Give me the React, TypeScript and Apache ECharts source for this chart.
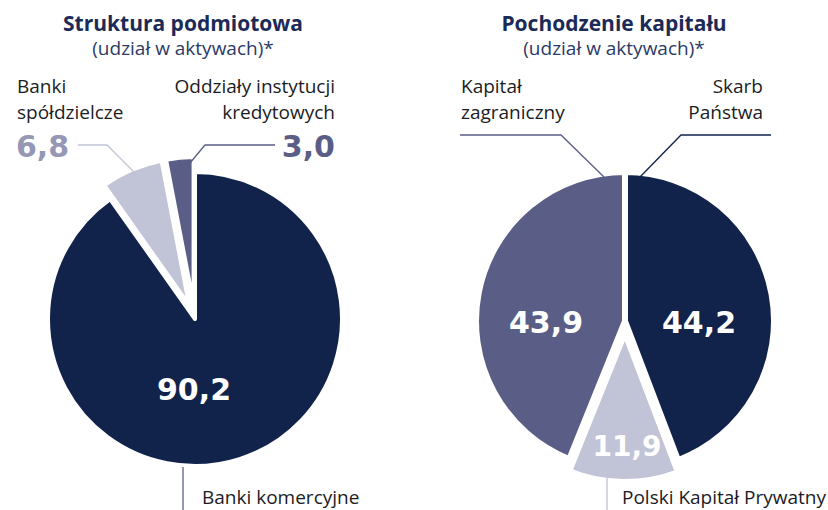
import React, { useEffect, useRef } from "react";
import * as echarts from "echarts";

const leftTitle = "Struktura podmiotowa";
const rightTitle = "Pochodzenie kapitału";
const subtitle = "(udział w aktywach)*";

const leftCategories = ["Banki komercyjne", "Banki spółdzielcze", "Oddziały instytucji kredytowych"];
const leftLabelLines = [["Banki komercyjne"], ["Banki", "spółdzielcze"], ["Oddziały instytucji", "kredytowych"]];
const leftValues = [90.2, 6.8, 3.0];
const leftSelected = [false, true, true];

const rightCategories = ["Skarb Państwa", "Polski Kapitał Prywatny", "Kapitał zagraniczny"];
const rightLabelLines = [["Skarb", "Państwa"], ["Polski Kapitał Prywatny"], ["Kapitał", "zagraniczny"]];
const rightValues = [44.2, 11.9, 43.9];
const rightSelected = [false, true, false];

const DARK = "#11224b";
const LIGHT = "#c1c3d6";
const SLATE = "#5a5e86";
const sliceColors = [DARK, LIGHT, SLATE];

const fmt = (v: number) => v.toFixed(1).replace(".", ",");

const FONT = "'Open Sans', 'Noto Sans', sans-serif";
const NUMFONT = "'DejaVu Sans', 'Open Sans', sans-serif";
const TITLE_COLOR = "#1b2a57";
const TEXT_COLOR = "#1c1c24";

function text(t: string, x: number, y: number, opts: any = {}) {
  return {
    type: "text",
    x,
    y,
    z: 100,
    silent: true,
    style: {
      text: t,
      fill: opts.fill || TEXT_COLOR,
      font: opts.font || `19px ${FONT}`,
      align: opts.align || "left",
      verticalAlign: opts.verticalAlign || "middle",
      lineHeight: opts.lineHeight || 20,
    },
  };
}

function line(points: number[][], stroke: string) {
  return {
    type: "polyline",
    z: 100,
    silent: true,
    shape: { points },
    style: { stroke, lineWidth: 1.3, fill: null },
  };
}

export default function App() {
  const ref = useRef<HTMLDivElement>(null);

  useEffect(() => {
    if (!ref.current) return;
    const chart = echarts.init(ref.current, null, { renderer: "svg" });

    const pieBase = {
      type: "pie",
      startAngle: 90,
      clockwise: true,
      selectedMode: "multiple",
      silent: true,
      label: { show: false },
      labelLine: { show: false },
      emphasis: { disabled: true },
      avoidLabelOverlap: false,
      z: 2,
    };

    const numBig = `bold 30px ${NUMFONT}`;

    chart.setOption({
      animation: false,
      backgroundColor: "#ffffff",
      series: [
        {
          ...pieBase,
          center: [195, 319],
          radius: 147,
          selectedOffset: 15,
          itemStyle: { borderColor: "#ffffff", borderWidth: 4 },
          data: leftCategories.map((name, i) => ({
            name,
            value: leftValues[i],
            selected: leftSelected[i],
            itemStyle: { color: sliceColors[i] },
          })),
        },
        {
          ...pieBase,
          center: [625, 321],
          radius: 149,
          selectedOffset: 12,
          itemStyle: { borderColor: "#ffffff", borderWidth: 6 },
          data: rightCategories.map((name, i) => ({
            name,
            value: rightValues[i],
            selected: rightSelected[i],
            itemStyle: { color: sliceColors[i] },
          })),
        },
      ],
      graphic: [
        // titles
        text(leftTitle, 183, 23, { font: `bold 21px ${FONT}`, fill: TITLE_COLOR, align: "center", lineHeight: 24 }),
        text(subtitle, 183, 48, { font: `19px ${FONT}`, fill: "#2c3a66", align: "center" }),
        text(rightTitle, 614, 23, { font: `bold 21px ${FONT}`, fill: TITLE_COLOR, align: "center", lineHeight: 24 }),
        text(subtitle, 614, 48, { font: `19px ${FONT}`, fill: "#2c3a66", align: "center" }),

        // left labels
        text(leftLabelLines[1][0], 17, 86),
        text(leftLabelLines[1][1], 17, 112),
        text(leftLabelLines[2][0], 335, 86, { align: "right" }),
        text(leftLabelLines[2][1], 335, 112, { align: "right" }),
        text(fmt(leftValues[1]), 16, 146, { font: numBig, fill: "#9597b4", lineHeight: 32 }),
        text(fmt(leftValues[2]), 335, 146, { font: numBig, fill: SLATE, align: "right", lineHeight: 32 }),
        line([[78, 145], [107, 145], [135, 173]], LIGHT),
        line([[275, 145], [205, 145], [190, 163]], SLATE),
        text(fmt(leftValues[0]), 194, 389, { font: numBig, fill: "#ffffff", align: "center", lineHeight: 32 }),
        line([[183, 467], [183, 510]], SLATE),
        text(leftLabelLines[0][0], 202, 497),

        // right labels
        text(rightLabelLines[2][0], 461, 86),
        text(rightLabelLines[2][1], 461, 112),
        text(rightLabelLines[0][0], 763, 86, { align: "right" }),
        text(rightLabelLines[0][1], 763, 112, { align: "right" }),
        line([[460, 135], [561, 135], [604, 177]], SLATE),
        line([[771, 135], [681, 135], [640, 177]], DARK),
        text(fmt(rightValues[0]), 699, 322, { font: numBig, fill: "#ffffff", align: "center", lineHeight: 32 }),
        text(fmt(rightValues[2]), 546, 322, { font: numBig, fill: "#ffffff", align: "center", lineHeight: 32 }),
        text(fmt(rightValues[1]), 627, 446, { font: `bold 28px ${NUMFONT}`, fill: "#ffffff", align: "center", lineHeight: 30 }),
        line([[607, 478], [607, 510]], LIGHT),
        text(rightLabelLines[1][0], 622, 497),
      ],
    });

    return () => chart.dispose();
  }, []);

  return (
    <div
      ref={ref}
      style={{ position: "fixed", left: 0, top: 0, width: 828, height: 510, background: "#fff" }}
    />
  );
}
